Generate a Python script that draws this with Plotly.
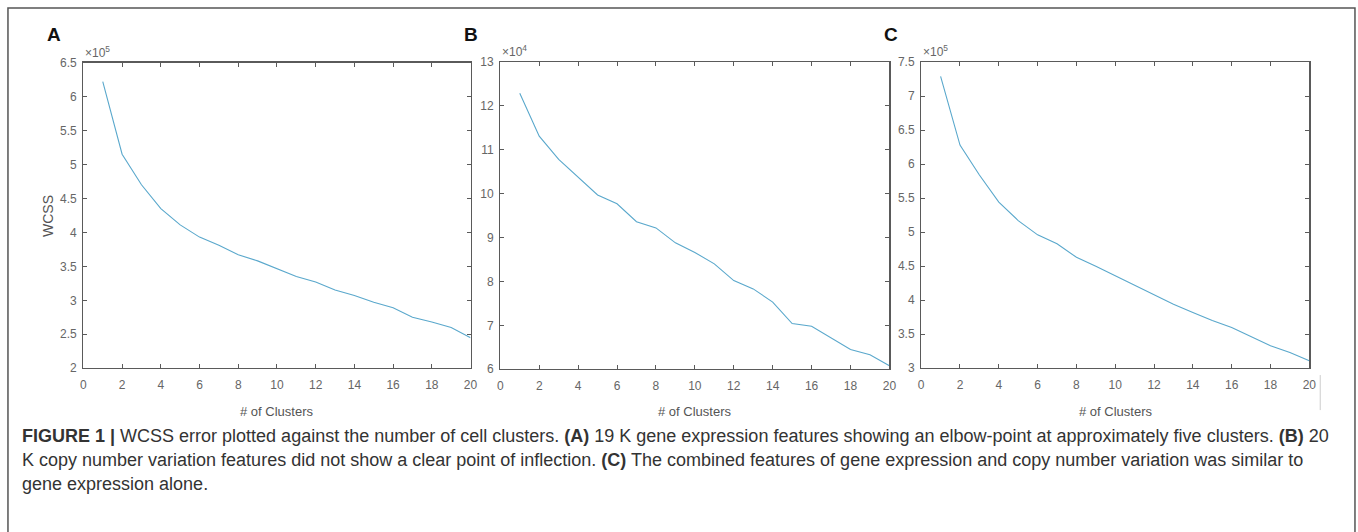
import plotly.graph_objects as go

W, H = 1358, 532

clusters = list(range(1, 21))
wcss_a = [622000, 515000, 470000, 435000, 411000, 393000, 381000, 367000, 358000, 346000,
          335000, 327000, 315000, 307000, 297000, 289000, 275000, 268000, 260000, 245000]
wcss_b = [122900, 113100, 107800, 103700, 99700, 97700, 93600, 92200, 88800, 86600,
          84000, 80200, 78300, 75300, 70400, 69800, 67200, 64500, 63300, 60800]
wcss_c = [729000, 628000, 584000, 544000, 517000, 496000, 483000, 463000, 450000, 436000,
          423000, 408000, 394000, 382000, 370000, 360000, 346000, 333000, 323000, 311000]

x_ticks = list(range(0, 21, 2))
panels = [
    dict(letter="A", data=wcss_a, exp=5, yrange=[2, 6.5], dtick=0.5, px=(81, 471), py=(57, 371)),
    dict(letter="B", data=wcss_b, exp=4, yrange=[6, 13], dtick=1, px=(501, 893), py=(56.5, 372)),
    dict(letter="C", data=wcss_c, exp=5, yrange=[3, 7.5], dtick=0.5, px=(925, 1316), py=(56.5, 371)),
]

line_color = "#5aa8cc"
axis_color = "#5a5a5a"
tick_color = "#666666"
font_fam = "Liberation Sans, Arial, sans-serif"

fig = go.Figure()
annotations = []
for i, p in enumerate(panels):
    n = "" if i == 0 else str(i + 1)
    scale = 10 ** p["exp"]
    fig.add_trace(go.Scatter(
        x=clusters, y=[v / scale for v in p["data"]], mode="lines",
        line=dict(color=line_color, width=1.1), xaxis="x" + n, yaxis="y" + n,
        showlegend=False, hoverinfo="skip"))
    xd = [p["px"][0] / W, p["px"][1] / W]
    yd = [1 - p["py"][1] / H, 1 - p["py"][0] / H]
    common = dict(showline=True, linecolor=axis_color, linewidth=1.2, mirror="ticks",
                  ticks="inside", ticklen=4, tickwidth=1, tickcolor=axis_color,
                  showgrid=False, zeroline=False,
                  tickfont=dict(family=font_fam, size=12, color=tick_color))
    fig.update_layout(**{
        "xaxis" + n: dict(domain=xd, range=[0, 20], tickvals=x_ticks, anchor="y" + n,
                          ticklabelstandoff=5, **common),
        "yaxis" + n: dict(domain=yd, range=p["yrange"], dtick=p["dtick"], anchor="x" + n,
                          ticklabelstandoff=3, **common),
    })
    # panel letter
    annotations.append(dict(x=(p["px"][0] - 39) / W, y=1 - 28 / H, xref="paper", yref="paper",
                            text="<b>%s</b>" % p["letter"], showarrow=False, xanchor="left",
                            yanchor="middle", font=dict(family=font_fam, size=19, color="#111111")))
    # exponent
    annotations.append(dict(x=p["px"][0] / W, y=1 - (p["py"][0] - 1) / H, xref="paper", yref="paper",
                            text="×10<sup>%d</sup>" % p["exp"], showarrow=False, xanchor="left",
                            yanchor="bottom", font=dict(family=font_fam, size=12, color=tick_color)))
    # x title
    annotations.append(dict(x=(p["px"][0] + p["px"][1]) / 2 / W, y=1 - 415 / H, xref="paper",
                            yref="paper", text="# of Clusters", showarrow=False, xanchor="center",
                            yanchor="middle", font=dict(family=font_fam, size=13, color="#555555")))

annotations.append(dict(x=46 / W, y=1 - 215 / H, xref="paper", yref="paper", text="WCSS",
                        textangle=-90, showarrow=False, xanchor="center", yanchor="middle",
                        font=dict(family=font_fam, size=14, color="#555555")))

cap_lines = [
    "<b>FIGURE 1 |</b> WCSS error plotted against the number of cell clusters. <b>(A)</b> 19 K gene expression features showing an elbow-point at approximately five clusters. <b>(B)</b> 20",
    "K copy number variation features did not show a clear point of inflection. <b>(C)</b> The combined features of gene expression and copy number variation was similar to",
    "gene expression alone.",
]
for k, t in enumerate(cap_lines):
    annotations.append(dict(x=17 / W, y=1 - (441 + 24.5 * k) / H, xref="paper", yref="paper",
                            text=t, showarrow=False, xanchor="left", yanchor="middle",
                            font=dict(family=font_fam, size=18, color="#333333")))

shapes = [
    dict(type="rect", xref="paper", yref="paper", x0=5 / W, x1=1362 / W, y0=-0.05, y1=1 - 1 / H,
         line=dict(color="#555555", width=1.5), fillcolor="rgba(0,0,0,0)"),
    dict(type="line", xref="paper", yref="paper", x0=1327 / W, x1=1327 / W, y0=1 - 378 / H,
         y1=1 - 414 / H, line=dict(color="#cccccc", width=1)),
]

fig.update_layout(width=W, height=H, margin=dict(l=0, r=0, t=0, b=0),
                  paper_bgcolor="white", plot_bgcolor="white",
                  annotations=annotations, shapes=shapes)

post = ("document.documentElement.style.margin='0';"
        "document.documentElement.style.overflow='hidden';"
        "document.body.style.margin='0';document.body.style.overflow='hidden';"
        "var gd=document.getElementById('{plot_id}');"
        "gd.style.position='fixed';gd.style.left='0px';gd.style.top='0px';")

fig.write_html("out.html", config={"displayModeBar": False, "staticPlot": True},
               post_script=post)
